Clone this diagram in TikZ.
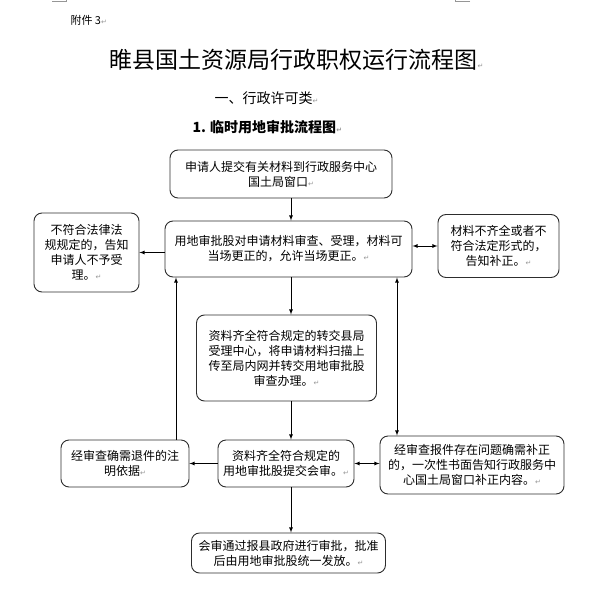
\documentclass[tikz,border=0pt]{standalone}
\usepackage{fontspec}
\usepackage{xcolor}
\usepackage{tikz}
\usetikzlibrary{arrows}
\setmainfont{Noto Sans CJK SC}
\newfontfamily\retfont{DejaVu Sans}
\definecolor{framegray}{RGB}{45, 45, 45}
\definecolor{markgray}{RGB}{150, 150, 150}
\newcommand{\parmark}{{\retfont\fontsize{7}{7}\selectfont\textcolor{markgray}{↵}}}

\begin{document}
\begin{tikzpicture}[x=1pt, y=-1pt,
    box/.style={draw=framegray, line width=0.9pt, rounded corners=8pt, align=center, inner sep=2pt, font=\fontsize{12}{15}\selectfont},
    link/.style={-latex, line width=0.8pt},
    both/.style={latex-latex, line width=0.8pt}]
    \useasboundingbox (0,0) rectangle (596,610);

    % Page corner marks
    \draw[markgray, line width=0.6pt] (52,1.5) -- (66,1.5) -- (66,0);
    \draw[markgray, line width=0.6pt] (470,1.5) -- (455,1.5) -- (455,0);

    % Headings
    \node[anchor=west, font=\fontsize{11}{13}\selectfont] (annex) at (67,20) {附件 3\parmark};
    \node[anchor=west, font=\fontsize{23}{28}\selectfont] (title) at (106,60) {睢县国土资源局行政职权运行流程图\parmark};
    \node[anchor=west, font=\fontsize{14}{17}\selectfont] (section) at (211,98) {一、行政许可类\parmark};
    \node[anchor=west, font=\bfseries\fontsize{14}{17}\selectfont] (subtitle) at (189,127) {1. 临时用地审批流程图\parmark};

    % Main column
    \node[box, minimum width=222, minimum height=48] (apply) at (281,174) {申请人提交有关材料到行政服务中心\\国土局窗口\parmark};
    \node[box, minimum width=247, minimum height=56] (review) at (288.5,249) {用地审批股对申请材料审查、受理，材料可\\当场更正的，允许当场更正。\parmark};
    \node[box, minimum width=180, minimum height=86] (transfer) at (286.5,358) {资料齐全符合规定的转交县局\\受理中心，将申请材料扫描上\\传至局内网并转交用地审批股\\审查办理。\parmark};
    \node[box, minimum width=136, minimum height=47] (meeting) at (286,463.5) {资料齐全符合规定的\\用地审批股提交会审。\parmark};
    \node[box, minimum width=194, minimum height=40] (issue) at (288.5,553) {会审通过报县政府进行审批，批准\\后由用地审批股统一发放。\parmark};

    % Side boxes
    \node[box, minimum width=105, minimum height=79] (reject) at (86.5,252.5) {不符合法律法\\规规定的，告知\\申请人不予受\\理。\parmark};
    \node[box, minimum width=121, minimum height=63] (supply) at (498.5,246) {材料不齐全或者不\\符合法定形式的，\\告知补正。\parmark};
    \node[box, minimum width=128, minimum height=47] (retreat) at (125,463.5) {经审查确需退件的注\\明依据\parmark};
    \node[box, minimum width=184, minimum height=58] (correct) at (472,465) {经审查报件存在问题确需补正\\的，一次性书面告知行政服务中\\心国土局窗口补正内容。\parmark};

    % Connector columns
    \coordinate (axis) at (291,0);
    \coordinate (backleft) at (176,0);
    \coordinate (backright) at (397,0);

    % Main flow
    \draw[link] (apply.south -| axis) -- (review.north -| axis);
    \draw[link] (review.south -| axis) -- (transfer.north -| axis);
    \draw[link] (transfer.south -| axis) -- (meeting.north -| axis);
    \draw[link] (meeting.south -| axis) -- (issue.north -| axis);

    % Side flows
    \draw[link] (review.west |- reject.east) -- (reject.east);
    \draw[both] (review.east |- supply.west) -- (supply.west);
    \draw[link] (meeting.west) -- (meeting.west -| retreat.east);
    \draw[both] (meeting.east) -- (meeting.east -| correct.west);
    \draw[link] (retreat.north -| backleft) -- (review.south -| backleft);
    \draw[both] (review.south -| backright) -- (correct.north -| backright);
\end{tikzpicture}
\end{document}
